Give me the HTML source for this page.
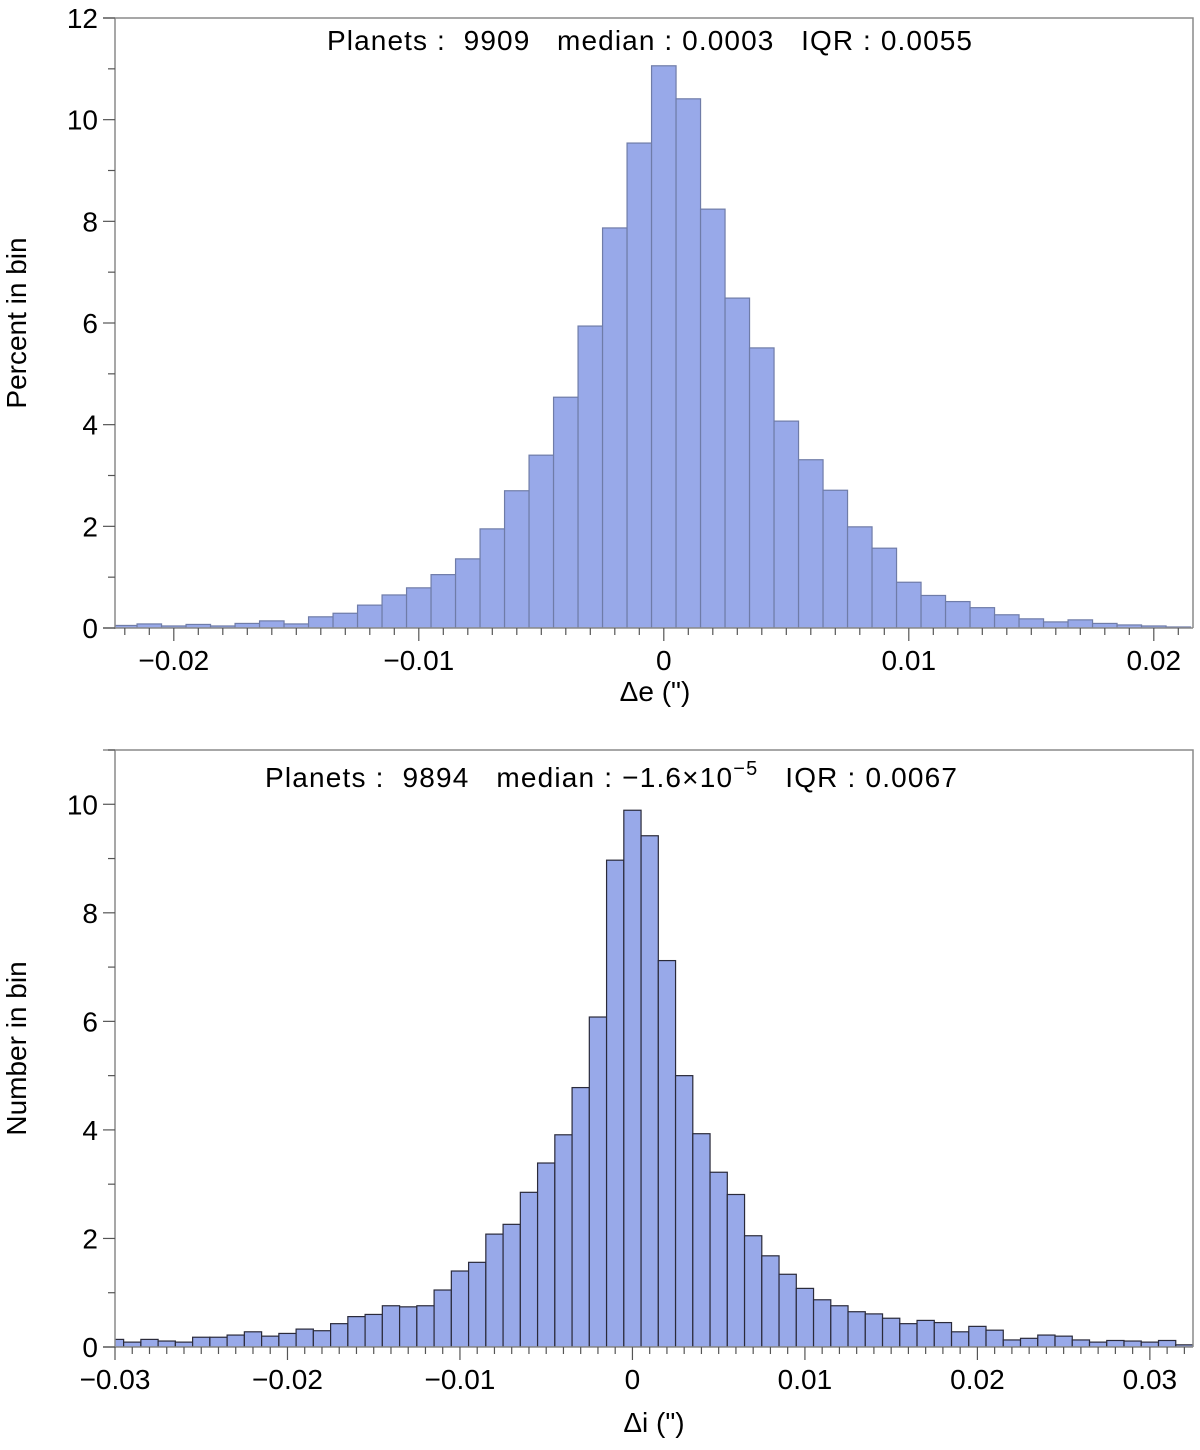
<!DOCTYPE html>
<html><head><meta charset="utf-8"><style>
body{margin:0;background:#fff}
svg text{font-family:"Liberation Sans",Arial,sans-serif;fill:#000}
.pre{white-space:pre}
</style></head><body>
<svg id="chart" width="1200" height="1445" xmlns="http://www.w3.org/2000/svg"></svg>
<script>
// Top panel data (delta e), bins of width 0.001 starting at -0.0225
const topBinStart = -0.0225;
const topBinWidth = 0.001;
const topValues = [0.05,0.08,0.04,0.07,0.04,0.09,0.14,0.08,0.22,0.29,0.45,0.65,0.79,1.05,
 1.36,1.95,2.7,3.4,4.54,5.94,7.87,9.54,11.06,10.41,8.24,6.49,5.51,4.07,3.31,2.71,1.99,1.57,
 0.90,0.64,0.52,0.40,0.26,0.18,0.12,0.16,0.09,0.06,0.04,0.02];
const topXTicks = [-0.02,-0.01,0,0.01,0.02];
const topXTickLabels = ["\u22120.02","\u22120.01","0","0.01","0.02"];
const topYTicks = [0,2,4,6,8,10,12];

// Bottom panel data (delta i)
const botBinStart = -0.0305;
const botBinWidth = 0.001;
const botValues = [0.14,0.09,0.14,0.11,0.09,0.18,0.18,0.22,0.28,0.2,0.25,0.33,0.30,0.43,0.56,0.6,0.76,0.74,0.76,1.05,
 1.40,1.56,2.08,2.26,2.85,3.39,3.91,4.78,6.08,8.97,9.89,9.42,7.12,5.0,3.93,3.22,2.81,2.05,1.68,
 1.34,1.08,0.87,0.76,0.65,0.61,0.53,0.43,0.49,0.45,0.28,0.38,0.31,0.13,0.16,0.22,0.20,0.13,0.09,0.12,0.11,0.09,0.12,0.04];
const botXTicks = [-0.03,-0.02,-0.01,0,0.01,0.02,0.03];
const botXTickLabels = ["\u22120.03","\u22120.02","\u22120.01","0","0.01","0.02","0.03"];
const botYTicks = [0,2,4,6,8,10];

const NS="http://www.w3.org/2000/svg";
const svg=document.getElementById('chart');
function mk(tag,attrs,parent){const e=document.createElementNS(NS,tag);for(const k in attrs)e.setAttribute(k,attrs[k]);(parent||svg).appendChild(e);return e;}

function panel(cfg){
  const g=mk('g',{});
  
  
  const L=115,R=1193,T=cfg.top,B=cfg.bottom;
  const xs=v=>L+(v-cfg.xmin)/(cfg.xmax-cfg.xmin)*(R-L);
  const ys=v=>B-(v-0)/(cfg.ymax)*(B-T);
  const cp=mk('clipPath',{id:cfg.name+'-clip'},g);
  mk('rect',{x:L,y:T,width:R-L,height:B-T},cp);
  const bars=mk('g',{'clip-path':'url(#'+cfg.name+'-clip)'},g);
  cfg.values.forEach((v,i)=>{
    const x0=xs(cfg.binStart+i*cfg.binWidth), x1=xs(cfg.binStart+(i+1)*cfg.binWidth);
    const r=mk('rect',{x:x0,y:ys(v),width:x1-x0,height:B-ys(v),fill:'#98a9e9',stroke:cfg.stroke,'stroke-width':1.2},bars);
    
    
  });
  const fr=mk('path',{d:`M${L-12},${T}H${R}V${B}M${L},${T}V${B+1}M${L-12},${B}H${R}`,fill:'none',stroke:'#8a8a8a','stroke-width':1.5},g);
  
  
  for(let v=0;v<=cfg.ymax+1e-9;v+=1){
    const major=cfg.yticks.includes(v);
    mk('line',{x1:L-(major?12:7),x2:L,y1:ys(v),y2:ys(v),stroke:'#555','stroke-width':1.2},g);
  }
  cfg.yticks.forEach(v=>{
    const t=mk('text',{x:L-17,y:ys(v)+10,'text-anchor':'end','font-size':28},g);
    t.textContent=v;
    
    
  });
  const start=Math.ceil(cfg.xmin/0.001-1e-6), end=Math.floor(cfg.xmax/0.001+1e-6);
  for(let k=start;k<=end;k++){
    const major=k%10===0;
    mk('line',{x1:xs(k*0.001),x2:xs(k*0.001),y1:B,y2:B+(major?13:7),stroke:'#555','stroke-width':1.2},g);
  }
  cfg.xticks.forEach((v,i)=>{
    const t=mk('text',{x:xs(v),y:B+42,'text-anchor':'middle','font-size':28},g);
    t.textContent=cfg.xlabels[i];
    
    
  });
  const xt=mk('text',{x:cfg.xtitleX,y:B+cfg.xtitleDy,'text-anchor':'middle','font-size':28},g);
  xt.textContent=cfg.xtitle;
  
  
  const cy=(T+B)/2;
  const yt=mk('text',{x:0,y:0,'text-anchor':'middle','font-size':28,transform:`translate(26,${cy}) rotate(-90)`},g);
  yt.textContent=cfg.ytitle;
  
  
  return g;
}

panel({name:'top-panel',top:18,bottom:628,xmin:-0.0224,xmax:0.0216,ymax:12,values:topValues,binStart:topBinStart,binWidth:topBinWidth,
  xticks:topXTicks,xlabels:topXTickLabels,yticks:topYTicks,xtitle:'\u0394e (")',xtitleX:655,xtitleDy:73,ytitle:'Percent in bin',stroke:'#6f7ca8'});
panel({name:'bottom-panel',top:750,bottom:1347,xmin:-0.0300,xmax:0.0325,ymax:11,values:botValues,binStart:botBinStart,binWidth:botBinWidth,
  xticks:botXTicks,xlabels:botXTickLabels,yticks:botYTicks,xtitle:'\u0394i (")',xtitleX:654,xtitleDy:85,ytitle:'Number in bin',stroke:'#2a2a3a'});

const a1=mk('text',{x:327,y:50,'font-size':28,'class':'pre',textLength:645,lengthAdjust:'spacing'});
a1.textContent='Planets :  9909   median : 0.0003   IQR : 0.0055';


const a2=mk('text',{x:265,y:787,'font-size':28,'class':'pre',textLength:692,lengthAdjust:'spacing'});
a2.innerHTML='Planets :  9894   median : \u22121.6\u00d710<tspan dy="-12" font-size="20">\u22125</tspan><tspan dy="12">   IQR : 0.0067</tspan>';


</script>
</body></html>
